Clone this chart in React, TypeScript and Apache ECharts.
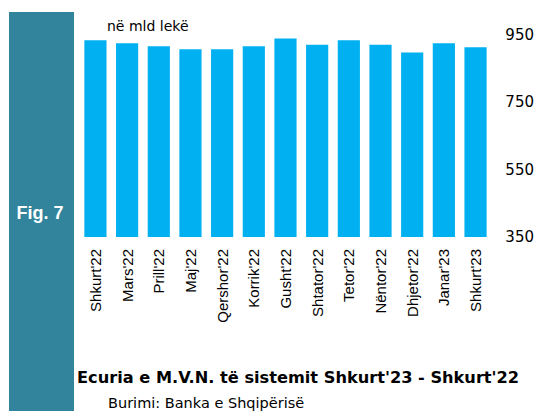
import React, { useEffect, useRef } from "react";
import * as echarts from "echarts";

const categories = [
  "Shkurt'22", "Mars'22", "Prill'22", "Maj'22", "Qershor'22", "Korrik'22", "Gusht'22",
  "Shtator'22", "Tetor'22", "Nëntor'22", "Dhjetor'22", "Janar'23", "Shkurt'23",
];
const values = [933, 924, 915, 906, 906, 915, 938, 920, 933, 920, 897, 924, 912];
const yMin = 350;
const yMax = 950;
const yInterval = 200;
const unitLabel = "në mld lekë";
const figLabel = "Fig. 7";
const titleText = "Ecuria e M.V.N. të sistemit Shkurt'23 - Shkurt'22";
const sourceText = "Burimi: Banka e Shqipërisë";

export default function App() {
  const ref = useRef<HTMLDivElement>(null);
  useEffect(() => {
    if (!ref.current) return;
    const chart = echarts.init(ref.current, undefined, { renderer: "svg" });
    chart.setOption({
      animation: false,
      backgroundColor: "#ffffff",
      grid: { left: 79.6, right: 43.8, top: 34.5, bottom: 174 },
      xAxis: {
        type: "category",
        data: categories,
        axisLine: { show: false },
        axisTick: { show: false },
        axisLabel: {
          rotate: 90,
          margin: 12,
          color: "#000000",
          fontFamily: "Liberation Sans",
          fontSize: 15,
        },
      },
      yAxis: {
        type: "value",
        position: "right",
        min: yMin,
        max: yMax,
        interval: yInterval,
        splitLine: { show: false },
        axisLine: { show: false },
        axisTick: { show: false },
        axisLabel: {
          margin: 14,
          color: "#000000",
          fontFamily: "DejaVu Sans",
          fontSize: 15,
        },
      },
      series: [
        {
          type: "bar",
          data: values,
          barCategoryGap: "30%",
          itemStyle: { color: "#00B0F0" },
        },
      ],
      graphic: [
        {
          type: "rect",
          shape: { x: 9, y: 12, width: 65, height: 400 },
          style: { fill: "#31849B" },
        },
        {
          type: "text",
          x: 40,
          y: 213,
          style: {
            text: figLabel,
            fill: "#ffffff",
            font: "bold 18px 'Liberation Sans'",
            align: "center",
            verticalAlign: "middle",
          },
        },
        {
          type: "text",
          x: 107,
          y: 26,
          style: {
            text: unitLabel,
            fill: "#000000",
            font: "14px 'DejaVu Sans'",
            align: "left",
            verticalAlign: "middle",
          },
        },
        {
          type: "text",
          x: 77,
          y: 377,
          style: {
            text: titleText,
            fill: "#000000",
            font: "bold 16.2px 'DejaVu Sans'",
            align: "left",
            verticalAlign: "middle",
          },
        },
        {
          type: "text",
          x: 108,
          y: 403,
          style: {
            text: sourceText,
            fill: "#000000",
            font: "14.5px 'DejaVu Sans'",
            align: "left",
            verticalAlign: "middle",
          },
        },
      ],
    });
    return () => chart.dispose();
  }, []);
  return (
    <div
      ref={ref}
      style={{ position: "fixed", left: 0, top: 0, width: 537, height: 411 }}
    />
  );
}
